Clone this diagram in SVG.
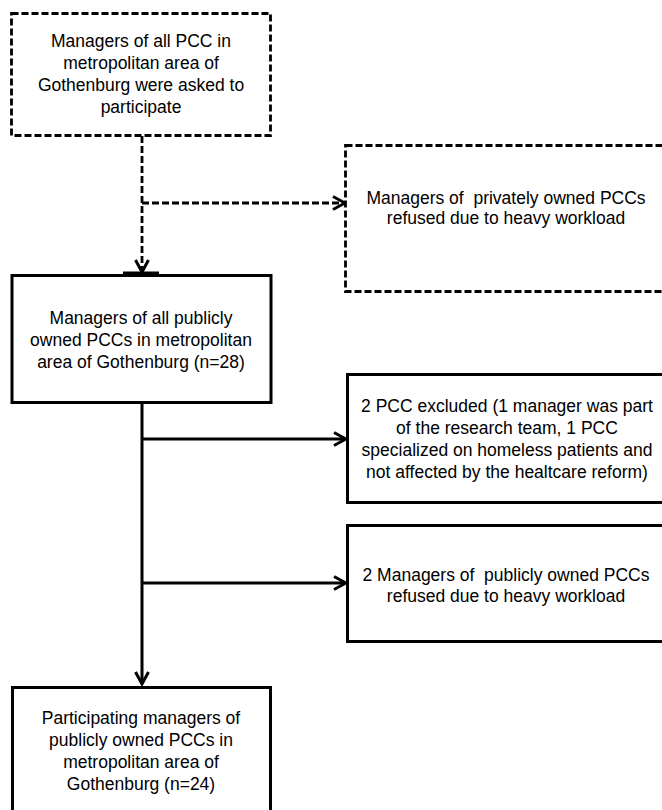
<svg xmlns="http://www.w3.org/2000/svg" width="662" height="810" viewBox="0 0 662 810">
  <style>
    .box { fill: #ffffff; stroke: #000000; stroke-width: 3; }
    .dashed { stroke-dasharray: 7 3; stroke-width: 2.8; }
    .label { font-family: "Liberation Sans", Arial, sans-serif; font-size: 17.5px; fill: #000000; text-anchor: middle; }
    .conn { fill: none; stroke: #000000; stroke-width: 3; }
    .conn-dash { stroke-dasharray: 7 3; stroke-width: 2.8; }
  </style>
  <defs>
    <marker id="chevron" viewBox="-16 -9 18 18" markerWidth="18" markerHeight="18" refX="0" refY="0" markerUnits="userSpaceOnUse" orient="auto">
      <path d="M -12 -6.5 L 0 0 L -12 6.5" fill="none" stroke="#000000" stroke-width="3" stroke-dasharray="none"/>
    </marker>
  </defs>
  <rect width="662" height="810" fill="#ffffff"/>

  <!-- connectors -->
  <g id="connectors">
    <path class="conn conn-dash" d="M 142 136 L 142 272" marker-end="url(#chevron)"/>
    <path class="conn conn-dash" d="M 142 203 L 345 203" marker-end="url(#chevron)"/>
    <path class="conn" d="M 142 403 L 142 684" marker-end="url(#chevron)"/>
    <path class="conn" d="M 142 439 L 346 439" marker-end="url(#chevron)"/>
    <path class="conn" d="M 142 583 L 346 583" marker-end="url(#chevron)"/>
  </g>

  <!-- invitation of all PCC managers -->
  <g id="node-invited">
    <rect class="box dashed" x="11.5" y="13.5" width="259" height="122"/>
    <text class="label" x="141" y="47">Managers of all PCC in</text>
    <text class="label" x="141" y="69">metropolitan area of</text>
    <text class="label" x="141" y="91">Gothenburg were asked to</text>
    <text class="label" x="141" y="113">participate</text>
  </g>

  <!-- private PCCs declining -->
  <g id="node-private-refused">
    <rect class="box dashed" x="345.5" y="145.5" width="330" height="146"/>
    <text class="label" x="506" y="204" xml:space="preserve">Managers of  privately owned PCCs</text>
    <text class="label" x="506" y="224">refused due to heavy workload</text>
  </g>

  <!-- public PCCs -->
  <g id="node-public">
    <rect class="box" x="12" y="275.5" width="259" height="127"/>
    <line x1="123" y1="273.5" x2="159" y2="273.5" stroke="#000000" stroke-width="4"/>
    <text class="label" x="141" y="324">Managers of all publicly</text>
    <text class="label" x="141" y="346">owned PCCs in metropolitan</text>
    <text class="label" x="141" y="368">area of Gothenburg (n=28)</text>
  </g>

  <!-- exclusions -->
  <g id="node-excluded">
    <rect class="box" x="347.5" y="374.5" width="330" height="128"/>
    <text class="label" x="507" y="412">2 PCC excluded (1 manager was part</text>
    <text class="label" x="507" y="434">of the research team, 1 PCC</text>
    <text class="label" x="507" y="456">specialized on homeless patients and</text>
    <text class="label" x="507" y="478">not affected by the healtcare reform)</text>
  </g>

  <!-- public PCCs declining -->
  <g id="node-public-refused">
    <rect class="box" x="347.5" y="525.5" width="330" height="116"/>
    <text class="label" x="506" y="581" xml:space="preserve">2 Managers of  publicly owned PCCs</text>
    <text class="label" x="506" y="602">refused due to heavy workload</text>
  </g>

  <!-- participants -->
  <g id="node-participating">
    <rect class="box" x="12.5" y="687.5" width="258" height="140"/>
    <text class="label" x="141" y="724">Participating managers of</text>
    <text class="label" x="141" y="746">publicly owned PCCs in</text>
    <text class="label" x="141" y="768">metropolitan area of</text>
    <text class="label" x="141" y="790">Gothenburg (n=24)</text>
  </g>
</svg>
